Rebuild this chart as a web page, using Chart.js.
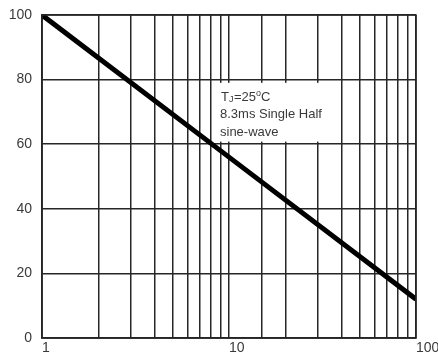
<!DOCTYPE html>
<html>
<head>
<meta charset="utf-8">
<script src="https://cdn.jsdelivr.net/npm/chart.js@4/dist/chart.umd.min.js"></script>
<style>
  html, body { margin: 0; padding: 0; background: #fff; }
  #wrap { width: 438px; height: 358px; }
</style>
</head>
<body>
<div id="wrap"><canvas id="c" width="438" height="358"></canvas></div>
<script>
// Surge current derating: number of cycles at 60 Hz (log) vs. peak forward surge current (%)
const cycles = [1, 10, 100];
const surgePercent = [100, 56, 12];
const xTickLabels = [1, 10, 100];
const yTicks = [0, 20, 40, 60, 80, 100];
const noteLines = ['8.3ms Single Half', 'sine-wave'];

const gridColor = '#262626';
const textColor = '#3a3a3a';
const fontFamily = 'Liberation Sans, Arial, sans-serif';

const noteBox = {
  id: 'noteBox',
  beforeDatasetsDraw(chart) {
    const { ctx, chartArea: a, scales } = chart;
    const yTop = scales.y.getPixelForValue(79);
    const yBot = scales.y.getPixelForValue(60.8);
    const x0 = a.left + 175;
    const x1 = a.left + 281;
    ctx.save();
    ctx.fillStyle = '#fff';
    ctx.fillRect(x0, yTop, x1 - x0, yBot - yTop);
    ctx.fillStyle = textColor;
    ctx.textBaseline = 'alphabetic';
    ctx.textAlign = 'left';
    const tx = x0 + 4;
    let base = yTop + 18;
    // T with subscript J, then =25°C
    ctx.font = '13px ' + fontFamily;
    ctx.fillText('T', tx, base);
    let cx = tx + ctx.measureText('T').width;
    ctx.font = '9px ' + fontFamily;
    ctx.fillText('J', cx, base + 1);
    cx += ctx.measureText('J').width + 0.5;
    ctx.font = '13px ' + fontFamily;
    ctx.fillText('=25', cx, base);
    cx += ctx.measureText('=25').width;
    ctx.font = '9px ' + fontFamily;
    ctx.fillText('o', cx, base - 5);
    cx += ctx.measureText('o').width;
    ctx.font = '13px ' + fontFamily;
    ctx.fillText('C', cx, base);
    ctx.font = '13px ' + fontFamily;
    noteLines.forEach((t, i) => {
      ctx.fillText(t, tx - 1, base + 17.5 * (i + 1));
    });
    ctx.restore();
  }
};

new Chart(document.getElementById('c'), {
  type: 'line',
  data: {
    datasets: [{
      data: cycles.map((c, i) => ({ x: c, y: surgePercent[i] })),
      borderColor: '#000',
      borderWidth: 5,
      pointRadius: 0,
      tension: 0,
      fill: false
    }]
  },
  options: {
    responsive: false,
    animation: false,
    devicePixelRatio: 1,
    layout: { padding: { left: 0, right: 22, top: 15, bottom: 0 } },
    plugins: { legend: { display: false }, tooltip: { enabled: false } },
    scales: {
      x: {
        type: 'logarithmic',
        min: 1,
        max: 100,
        border: { display: true, color: gridColor, width: 1.5 },
        grid: { color: gridColor, lineWidth: 1.5, drawTicks: false },
        ticks: {
          autoSkip: false,
          maxRotation: 0,
          align: 'start',
          padding: 2,
          color: textColor,
          font: { family: fontFamily, size: 14 },
          callback: v => (xTickLabels.includes(v) ? String(v) : '')
        },
        afterFit: s => { s.height = 20; s.paddingLeft = 0; s.paddingRight = 0; }
      },
      y: {
        min: 0,
        max: 100,
        afterBuildTicks: s => { s.ticks = yTicks.map(v => ({ value: v })); },
        border: { display: true, color: gridColor, width: 1.5 },
        grid: { color: gridColor, lineWidth: 1.5, drawTicks: false },
        ticks: {
          padding: 10,
          color: textColor,
          font: { family: fontFamily, size: 14 }
        },
        afterFit: s => { s.width = 42; s.paddingTop = 0; s.paddingBottom = 0; }
      }
    }
  },
  plugins: [noteBox, {
    id: 'frame',
    afterDraw(chart) {
      const { ctx, chartArea: a } = chart;
      ctx.save();
      ctx.strokeStyle = gridColor;
      ctx.lineWidth = 1.5;
      ctx.strokeRect(a.left, a.top, a.right - a.left, a.bottom - a.top);
      ctx.restore();
    }
  }]
});
</script>
</body>
</html>
